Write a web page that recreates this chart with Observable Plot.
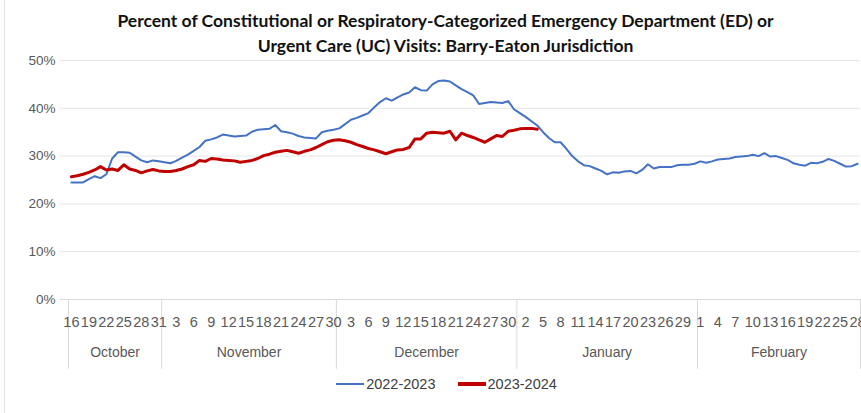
<!DOCTYPE html>
<html>
<head>
<meta charset="utf-8">
<script src="https://cdn.jsdelivr.net/npm/d3@7"></script>
<script src="https://cdn.jsdelivr.net/npm/@observablehq/plot@0.6"></script>
<style>
  html, body { margin: 0; padding: 0; background: #fff; }
  #wrap { position: relative; width: 861px; height: 413px; overflow: hidden; font-family: "Liberation Sans", Arial, sans-serif; }
  #border { position: absolute; left: 4px; top: 0; width: 1px; height: 413px; background: #e3e3e3; }
  #title { height: 55px; box-sizing: border-box; padding-top: 8px; padding-left: 30px; text-align: center;
           font-family: Lato, "Open Sans", sans-serif; font-weight: bold; font-size: 17.5px; line-height: 25px; color: #111; }
  #legend { display: flex; justify-content: center; align-items: center; gap: 22px; margin-top: 6px; padding-left: 32px;
            font-size: 14.5px; color: #404040; }
  .item { display: flex; align-items: center; gap: 2px; }
  .sw { display: inline-block; width: 28px; }
</style>
</head>
<body>
<div id="wrap">
  <div id="border"></div>
  <div id="title">Percent of Constitutional or Respiratory-Categorized Emergency Department (ED) or<br>Urgent Care (UC) Visits: Barry-Eaton Jurisdiction</div>
  <div id="chart"></div>
  <div id="legend"></div>
</div>
<script>
// ---- Data ----
const months = ["October", "November", "December", "January", "February"];
const monthStartDay = [16, 1, 1, 1, 1];
const monthLength = [31, 30, 31, 31, 28];
const yTicks = [0, 10, 20, 30, 40, 50];
const seriesNames = ["2022-2023", "2023-2024"];
const seriesColors = ["#4472C4", "#C00000"];

// 2022-2023 season, daily % (Oct 16 .. Feb 28)
const values2022 = [
  24.5,24.5,24.5,25.2,25.8,25.4,26.2,29.5,30.8,30.8,30.7,29.9,29.1,28.7,29.1,28.9,
  28.7,28.5,29.0,29.7,30.3,31.1,31.9,33.2,33.5,33.9,34.5,34.3,34.1,34.2,34.3,35.1,35.5,35.6,35.7,36.5,35.2,35.0,34.7,34.2,33.9,33.8,33.7,35.0,35.3,35.5,
  35.8,36.7,37.6,38.0,38.5,39.0,40.2,41.3,42.1,41.6,42.3,42.9,43.3,44.4,43.8,43.7,45.0,45.7,45.8,45.6,44.8,44.0,43.4,42.7,40.9,41.1,41.3,41.2,41.1,41.5,39.8,
  39.0,38.2,37.3,36.4,35.0,33.8,32.9,32.9,31.5,30.0,28.9,28.1,27.9,27.4,26.9,26.2,26.6,26.5,26.8,26.9,26.4,27.1,28.3,27.4,27.7,27.7,27.7,28.1,28.2,28.2,28.4,
  28.9,28.6,28.9,29.3,29.4,29.5,29.8,29.9,30.0,30.3,30.0,30.6,29.9,30.0,29.6,29.2,28.5,28.2,28.0,28.6,28.5,28.8,29.4,29.0,28.4,27.8,27.9,28.4
];
// 2023-2024 season, daily % (Oct 16 .. Jan 4)
const values2023 = [
  25.7,25.9,26.2,26.6,27.1,27.8,27.1,27.3,27.0,28.2,27.3,27.0,26.5,26.9,27.2,26.9,
  26.8,26.8,27.0,27.3,27.8,28.2,29.1,28.9,29.5,29.4,29.2,29.1,29.0,28.7,28.9,29.1,29.5,30.1,30.4,30.8,31.0,31.2,30.9,30.6,31.0,31.3,31.8,32.4,33.0,33.3,
  33.4,33.2,32.9,32.4,32.0,31.6,31.3,30.9,30.5,30.9,31.3,31.4,31.8,33.6,33.6,34.8,35.0,34.9,34.8,35.2,33.4,34.8,34.3,33.9,33.4,32.9,33.6,34.3,34.1,35.2,35.4,
  35.7,35.8,35.8,35.6
];

// ---- Derived category structure ----
const days = [];
months.forEach((m, mi) => {
  for (let d = monthStartDay[mi]; d <= monthLength[mi]; d++) days.push({month: m, day: d});
});
days.forEach((d, i) => d.i = i);
const n = days.length;
const dayTicks = days.filter(d => d.i % 3 === 0);
const bounds = [-0.5];
const monthCenters = [];
let acc = 0;
months.forEach((m, mi) => {
  const len = monthLength[mi] - monthStartDay[mi] + 1;
  monthCenters.push({month: m, x: acc + len / 2 - 0.5});
  acc += len;
  bounds.push(acc - 0.5);
});

const s1 = values2022.map((v, i) => ({i, v}));
const s2 = values2023.map((v, i) => ({i, v}));

const chart = Plot.plot({
  width: 861,
  height: 315,
  marginTop: 5,
  marginBottom: 71,
  marginLeft: 68,
  marginRight: 1,
  x: {domain: [-0.5, n - 0.5], axis: null},
  y: {domain: [0, 50], axis: null},
  style: {fontFamily: "Liberation Sans, Arial, sans-serif", background: "#fff", overflow: "visible"},
  marks: [
    Plot.ruleY(yTicks.filter(t => t > 0), {y: d => d, stroke: "#e6e6e6", strokeWidth: 1, insetLeft: -8}),
    Plot.ruleY([0], {stroke: "#d9d9d9", strokeWidth: 1, insetLeft: -8}),
    Plot.text(yTicks, {x: -0.5, y: d => d, text: d => d + "%", textAnchor: "end", dx: -13, fill: "#595959", fontSize: 13.5}),
    Plot.ruleX(bounds, {x: d => d, y1: 0, y2: -14.6, stroke: "#d9d9d9", strokeWidth: 1, clip: false}),
    Plot.text(dayTicks, {x: "i", y: 0, text: d => String(d.day), dy: 23, fill: "#595959", fontSize: 14.5}),
    Plot.text(monthCenters, {x: "x", y: 0, text: "month", dy: 53, fill: "#595959", fontSize: 14}),
    Plot.line(s1, {x: "i", y: "v", stroke: seriesColors[0], strokeWidth: 2, strokeLinejoin: "round"}),
    Plot.line(s2, {x: "i", y: "v", stroke: seriesColors[1], strokeWidth: 3, strokeLinejoin: "round"})
  ]
});
document.getElementById("chart").appendChild(chart);

const legend = document.getElementById("legend");
seriesNames.forEach((name, k) => {
  const item = document.createElement("div");
  item.className = "item";
  const sw = document.createElement("span");
  sw.className = "sw";
  sw.style.height = (k === 0 ? 2.5 : 3.5) + "px";
  sw.style.background = seriesColors[k];
  const t = document.createElement("span");
  t.textContent = name;
  item.appendChild(sw);
  item.appendChild(t);
  legend.appendChild(item);
});
</script>
</body>
</html>
